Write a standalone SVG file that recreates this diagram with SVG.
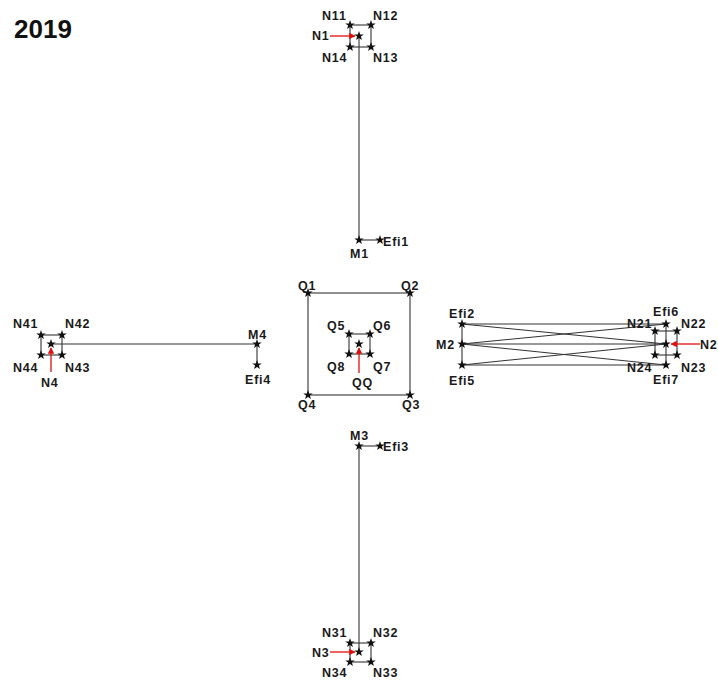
<svg xmlns="http://www.w3.org/2000/svg" width="718" height="680" viewBox="0 0 718 680">
<style>
.lb{font-family:"Liberation Sans",Arial,sans-serif;font-weight:bold;font-size:12.5px;letter-spacing:0.8px;fill:#1a1a1a}
.ttl{font-family:"Liberation Sans",Arial,sans-serif;font-weight:bold;font-size:26px;fill:#111}
.ln{stroke:#333;stroke-width:1.1;fill:none}
.red{stroke:#e01010;stroke-width:1.3;fill:none;marker-end:url(#ah)}
</style>
<defs>
<path id="st" d="M0,-5 L1.18,-1.62 L4.76,-1.55 L1.9,0.62 L2.94,4.05 L0,2 L-2.94,4.05 L-1.9,0.62 L-4.76,-1.55 L-1.18,-1.62 Z" fill="#111"/>
<marker id="ah" viewBox="0 0 10 10" refX="9" refY="5" markerWidth="5" markerHeight="5" orient="auto" markerUnits="strokeWidth"><path d="M0,0 L10,5 L0,10 Z" fill="#e01010"/></marker>
</defs>
<rect width="718" height="680" fill="#fff"/>
<text class="ttl" x="14" y="38">2019</text>

<g id="connectors">
<rect class="ln" x="350" y="25" width="21" height="22"/>
<line class="ln" x1="359" y1="36" x2="359" y2="240"/>
<line class="ln" x1="359" y1="240" x2="380" y2="240"/>
<rect class="ln" x="308" y="293" width="102" height="102"/>
<rect class="ln" x="349" y="334" width="21" height="20"/>
<rect class="ln" x="41" y="335" width="21" height="20"/>
<line class="ln" x1="51" y1="344" x2="257" y2="344"/>
<line class="ln" x1="257" y1="344" x2="257" y2="365"/>
<line class="ln" x1="462" y1="324" x2="462" y2="365"/>
<line class="ln" x1="462" y1="324" x2="666" y2="324"/>
<line class="ln" x1="462" y1="324" x2="666" y2="344"/>
<line class="ln" x1="462" y1="344" x2="666" y2="324"/>
<line class="ln" x1="462" y1="344" x2="666" y2="344"/>
<line class="ln" x1="462" y1="344" x2="666" y2="365"/>
<line class="ln" x1="462" y1="365" x2="666" y2="344"/>
<line class="ln" x1="462" y1="365" x2="666" y2="365"/>
<rect class="ln" x="655" y="331" width="22" height="24"/>
<line class="ln" x1="666" y1="324" x2="666" y2="365"/>
<line class="ln" x1="359" y1="446" x2="380" y2="446"/>
<line class="ln" x1="359" y1="446" x2="359" y2="652"/>
<rect class="ln" x="350" y="643" width="21" height="19"/>
<line class="red" x1="330" y1="36" x2="355" y2="36"/>
<line class="red" x1="359" y1="373" x2="359" y2="348"/>
<line class="red" x1="51" y1="372" x2="51" y2="348"/>
<line class="red" x1="700" y1="344" x2="671" y2="344"/>
<line class="red" x1="330" y1="652" x2="355" y2="652"/>
</g>

<g id="N1"><use href="#st" x="359" y="36"/><text class="lb" x="312" y="40">N1</text></g>
<g id="N11"><use href="#st" x="350" y="25"/><text class="lb" x="322" y="20">N11</text></g>
<g id="N12"><use href="#st" x="371" y="25"/><text class="lb" x="373" y="20">N12</text></g>
<g id="N13"><use href="#st" x="371" y="47"/><text class="lb" x="373" y="62">N13</text></g>
<g id="N14"><use href="#st" x="350" y="47"/><text class="lb" x="322" y="62">N14</text></g>
<g id="M1"><use href="#st" x="359" y="240"/><text class="lb" x="350" y="258">M1</text></g>
<g id="Efi1"><use href="#st" x="380" y="240"/><text class="lb" x="383" y="246">Efi1</text></g>

<g id="Q1"><use href="#st" x="308" y="293"/><text class="lb" x="298" y="290">Q1</text></g>
<g id="Q2"><use href="#st" x="410" y="293"/><text class="lb" x="401" y="290">Q2</text></g>
<g id="Q3"><use href="#st" x="410" y="395"/><text class="lb" x="402" y="409">Q3</text></g>
<g id="Q4"><use href="#st" x="308" y="395"/><text class="lb" x="298" y="409">Q4</text></g>
<g id="Q5"><use href="#st" x="349" y="334"/><text class="lb" x="327" y="330">Q5</text></g>
<g id="Q6"><use href="#st" x="370" y="334"/><text class="lb" x="373" y="330">Q6</text></g>
<g id="Q7"><use href="#st" x="370" y="354"/><text class="lb" x="373" y="371">Q7</text></g>
<g id="Q8"><use href="#st" x="349" y="354"/><text class="lb" x="327" y="371">Q8</text></g>
<g id="QQ"><use href="#st" x="359" y="344"/><text class="lb" x="352" y="387">QQ</text></g>

<g id="N4"><use href="#st" x="51" y="344"/><text class="lb" x="41" y="387">N4</text></g>
<g id="N41"><use href="#st" x="41" y="335"/><text class="lb" x="13" y="328">N41</text></g>
<g id="N42"><use href="#st" x="62" y="335"/><text class="lb" x="65" y="328">N42</text></g>
<g id="N43"><use href="#st" x="62" y="355"/><text class="lb" x="65" y="372">N43</text></g>
<g id="N44"><use href="#st" x="41" y="355"/><text class="lb" x="13" y="372">N44</text></g>
<g id="M4"><use href="#st" x="257" y="344"/><text class="lb" x="248" y="339">M4</text></g>
<g id="Efi4"><use href="#st" x="257" y="365"/><text class="lb" x="245" y="384">Efi4</text></g>

<g id="Efi2"><use href="#st" x="462" y="324"/><text class="lb" x="449" y="318">Efi2</text></g>
<g id="M2"><use href="#st" x="462" y="344"/><text class="lb" x="436" y="349">M2</text></g>
<g id="Efi5"><use href="#st" x="462" y="365"/><text class="lb" x="449" y="385">Efi5</text></g>

<g id="N2"><use href="#st" x="666" y="344"/><text class="lb" x="700" y="349">N2</text></g>
<g id="N21"><use href="#st" x="655" y="331"/><text class="lb" x="627" y="328">N21</text></g>
<g id="N22"><use href="#st" x="677" y="331"/><text class="lb" x="681" y="328">N22</text></g>
<g id="N23"><use href="#st" x="677" y="355"/><text class="lb" x="681" y="372">N23</text></g>
<g id="N24"><use href="#st" x="655" y="355"/><text class="lb" x="627" y="372">N24</text></g>
<g id="Efi6"><use href="#st" x="666" y="324"/><text class="lb" x="653" y="316">Efi6</text></g>
<g id="Efi7"><use href="#st" x="666" y="365"/><text class="lb" x="653" y="384">Efi7</text></g>

<g id="M3"><use href="#st" x="359" y="446"/><text class="lb" x="350" y="440">M3</text></g>
<g id="Efi3"><use href="#st" x="380" y="446"/><text class="lb" x="383" y="451">Efi3</text></g>
<g id="N3"><use href="#st" x="359" y="652"/><text class="lb" x="312" y="657">N3</text></g>
<g id="N31"><use href="#st" x="350" y="643"/><text class="lb" x="322" y="637">N31</text></g>
<g id="N32"><use href="#st" x="371" y="643"/><text class="lb" x="373" y="637">N32</text></g>
<g id="N33"><use href="#st" x="371" y="662"/><text class="lb" x="373" y="677">N33</text></g>
<g id="N34"><use href="#st" x="350" y="662"/><text class="lb" x="322" y="677">N34</text></g>
</svg>
